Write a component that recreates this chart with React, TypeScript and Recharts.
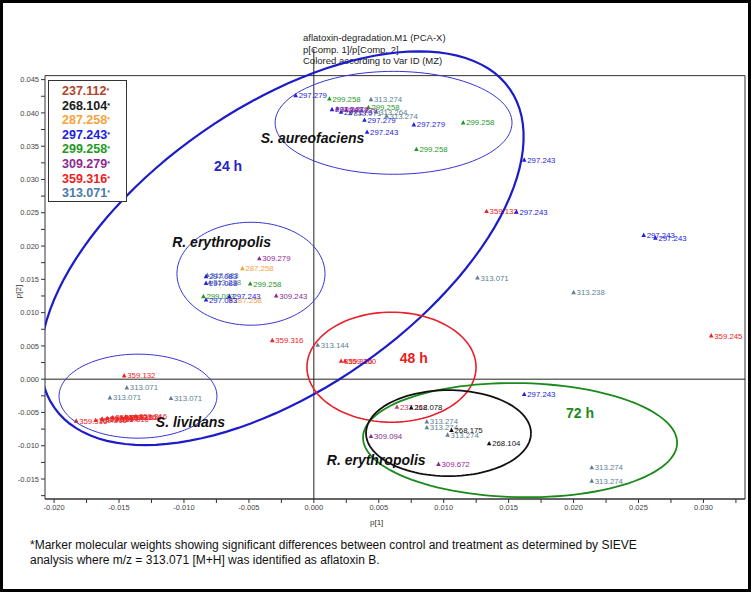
import { ScatterChart, Scatter, XAxis, YAxis, ReferenceLine, ReferenceArea } from 'recharts';

const FONT = '"Liberation Sans", Arial, sans-serif';

// axis ranges (frame is x: -0.0207..0.0332, y: -0.018..0.0456; y domain runs higher so the 24 h ellipse fits)
const X_DOMAIN = [-0.0207, 0.0332];
const Y_DOMAIN = [-0.018, 0.0496];
const FRAME_TOP = 0.0456;
const X_TICKS = [-0.02, -0.0175, -0.015, -0.0125, -0.01, -0.0075, -0.005, -0.0025, 0, 0.0025, 0.005, 0.0075, 0.01, 0.0125, 0.015, 0.0175, 0.02, 0.0225, 0.025, 0.0275, 0.03, 0.0325];
const Y_TICKS = [-0.0175, -0.015, -0.0125, -0.01, -0.0075, -0.005, -0.0025, 0, 0.0025, 0.005, 0.0075, 0.01, 0.0125, 0.015, 0.0175, 0.02, 0.0225, 0.025, 0.0275, 0.03, 0.0325, 0.035, 0.0375, 0.04, 0.0425, 0.045];

// loadings, grouped by Var ID colour
const S237 = [{ x: 0.0064, y: -0.0042, label: '237.112' }];
const S268 = [
    { x: 0.0075, y: -0.0043, label: '268.078' },
    { x: 0.0106, y: -0.0077, label: '268.175' },
    { x: 0.0135, y: -0.0097, label: '268.104' },
];
const S287 = [
    { x: -0.0055, y: 0.0166, label: '287.258' },
    { x: -0.0064, y: 0.0119, label: '287.258' },
];
const S297 = [
    { x: -0.0014, y: 0.0426, label: '297.279' },
    { x: 0.0014, y: 0.0405, label: '297.243' },
    { x: 0.0021, y: 0.0401, label: '297.279' },
    { x: 0.0039, y: 0.0389, label: '297.279' },
    { x: 0.0077, y: 0.0382, label: '297.279' },
    { x: 0.0041, y: 0.0371, label: '297.243' },
    { x: 0.0162, y: 0.0329, label: '297.243' },
    { x: 0.0156, y: 0.0251, label: '297.243' },
    { x: 0.0254, y: 0.0216, label: '297.243' },
    { x: 0.0263, y: 0.0212, label: '297.243' },
    { x: -0.0083, y: 0.0154, label: '297.083' },
    { x: -0.0083, y: 0.0144, label: '297.088' },
    { x: -0.0083, y: 0.0119, label: '297.083' },
    { x: -0.0065, y: 0.0124, label: '297.243' },
    { x: 0.0162, y: -0.0023, label: '297.243' },
];
const S299 = [
    { x: 0.0012, y: 0.0421, label: '299.258' },
    { x: 0.0042, y: 0.0408, label: '299.258' },
    { x: 0.0115, y: 0.0385, label: '299.258' },
    { x: 0.0079, y: 0.0345, label: '299.258' },
    { x: -0.0049, y: 0.0143, label: '299.258' },
    { x: -0.0085, y: 0.0124, label: '299.083' },
];
const S309 = [
    { x: 0.0018, y: 0.0406, label: '309.279' },
    { x: 0.0025, y: 0.0404, label: '309.279' },
    { x: -0.0042, y: 0.0181, label: '309.279' },
    { x: -0.0029, y: 0.0125, label: '309.243' },
    { x: 0.0044, y: -0.0086, label: '309.094' },
    { x: 0.0096, y: -0.0128, label: '309.672' },
];
const S313 = [
    { x: 0.0044, y: 0.042, label: '313.274' },
    { x: 0.0028, y: 0.0399, label: '313.071' },
    { x: 0.0048, y: 0.0401, label: '313.264' },
    { x: 0.0056, y: 0.0395, label: '313.274' },
    { x: 0.0126, y: 0.0152, label: '313.071' },
    { x: 0.02, y: 0.013, label: '313.238' },
    { x: -0.0082, y: 0.0156, label: '313.083' },
    { x: -0.008, y: 0.0145, label: '313.238' },
    { x: 0.0003, y: 0.0051, label: '313.144' },
    { x: -0.0144, y: -0.0013, label: '313.071' },
    { x: -0.0157, y: -0.0028, label: '313.071' },
    { x: -0.011, y: -0.0029, label: '313.071' },
    { x: -0.0163, y: -0.0061, label: '313.071' },
    { x: 0.0087, y: -0.0064, label: '313.274' },
    { x: 0.0087, y: -0.0073, label: '313.274' },
    { x: 0.0103, y: -0.0084, label: '313.274' },
    { x: 0.0214, y: -0.0133, label: '313.274' },
    { x: 0.0214, y: -0.0153, label: '313.274' },
];
const S359 = [
    { x: -0.0146, y: 0.0005, label: '359.132' },
    { x: 0.0133, y: 0.0252, label: '359.132' },
    { x: 0.0306, y: 0.0065, label: '359.245' },
    { x: -0.0032, y: 0.0058, label: '359.316' },
    { x: 0.0021, y: 0.0027, label: '359.316' },
    { x: 0.0024, y: 0.0027, label: '359.300' },
    { x: -0.0183, y: -0.0063, label: '359.316' },
    { x: -0.0168, y: -0.0062, label: '359.316' },
    { x: -0.0163, y: -0.006, label: '359.316' },
    { x: -0.0159, y: -0.0059, label: '359.316' },
    { x: -0.0155, y: -0.0058, label: '359.316' },
    { x: -0.0151, y: -0.006, label: '359.316' },
    { x: -0.0148, y: -0.0058, label: '359.316' },
    { x: -0.0145, y: -0.0057, label: '359.316' },
    { x: -0.0141, y: -0.0058, label: '359.316' },
    { x: -0.0137, y: -0.0056, label: '359.316' },
];

const SERIES = [
    { name: '313', color: '#607f96', data: S313 },
    { name: '359', color: '#ee2222', data: S359 },
    { name: '299', color: '#1f9a1f', data: S299 },
    { name: '287', color: '#f5a23c', data: S287 },
    { name: '297', color: '#2222dd', data: S297 },
    { name: '309', color: '#8e2a8e', data: S309 },
    { name: '237', color: '#c8406a', data: S237 },
    { name: '268', color: '#111111', data: S268 },
];

const LEGEND_ITEMS = [
    { text: '237.112', color: '#b0452a' },
    { text: '268.104', color: '#1a1a1a' },
    { text: '287.258', color: '#f5a23c' },
    { text: '297.243', color: '#2020e0' },
    { text: '299.258', color: '#1f9a1f' },
    { text: '309.279', color: '#8e2a8e' },
    { text: '359.316', color: '#ee2222' },
    { text: '313.071', color: '#4a78a8' },
];

// group ellipses: centre plus two half-axis vectors, in data units
const ELLIPSES = [
    { cx: -0.00245, cy: 0.01967, ux: 0.01753, uy: 0.02395, vx: 0.00623, vy: -0.01734, stroke: '#1c1cc8', width: 2.2 },
    { cx: 0.00614, cy: 0.03851, ux: 0.00912, uy: 0, vx: 0, vy: 0.00773, stroke: '#3434d4', width: 1 },
    { cx: -0.00484, cy: 0.01584, ux: 0.0057, uy: 0, vx: 0, vy: 0.00773, stroke: '#3434d4', width: 1 },
    { cx: -0.01354, cy: -0.00255, ux: 0.00608, uy: 0, vx: 0, vy: 0.00631, stroke: '#3434d4', width: 1 },
    { cx: 0.00598, cy: 0.0018, ux: 0.00651, uy: 0, vx: 0, vy: 0.00826, stroke: '#e8202a', width: 1.6 },
    { cx: 0.01588, cy: -0.00916, ux: 0.01209, uy: -0.0006, vx: 0.0003, vy: 0.00856, stroke: '#1a8a1a', width: 1.8 },
    { cx: 0.01037, cy: -0.00811, ux: 0.00635, uy: 0, vx: 0, vy: 0.00646, stroke: '#111111', width: 1.8 },
];

const NOTES = [
    { x: -0.0066, y: 0.032, text: '24 h', color: '#2424c8', italic: false },
    { x: -0.0001, y: 0.0363, text: 'S. aureofaciens', color: '#111', italic: true },
    { x: -0.0071, y: 0.0206, text: 'R. erythropolis', color: '#111', italic: true },
    { x: -0.0095, y: -0.0065, text: 'S. lividans', color: '#111', italic: true },
    { x: 0.0077, y: 0.0032, text: '48 h', color: '#e82020', italic: false },
    { x: 0.0048, y: -0.0122, text: 'R. erythropolis', color: '#111', italic: true },
    { x: 0.0205, y: -0.0051, text: '72 h', color: '#1a8a1a', italic: false },
];

function ellipsePoints(e: typeof ELLIPSES[number]) {
    const pts = [];
    for (let i = 0; i <= 120; i++) {
        const t = (i / 120) * Math.PI * 2;
        pts.push({
            x: e.cx + e.ux * Math.cos(t) + e.vx * Math.sin(t),
            y: e.cy + e.uy * Math.cos(t) + e.vy * Math.sin(t),
        });
    }
    return pts;
}

const fmtTick = (v: number) => {
    const k = Math.round(v * 1000 / 5);
    return Math.abs(v * 1000 - k * 5) < 1e-6 ? v.toFixed(3) : '';
};

function marker(color: string) {
    return (p: any) => (
        <g>
            <polygon points={`${p.cx},${p.cy - 2.8} ${p.cx - 2.3},${p.cy + 1.6} ${p.cx + 2.3},${p.cy + 1.6}`} fill={color} />
            <text x={p.cx + 3} y={p.cy + 2.6} fontSize={7.8} fill={color} fontFamily={FONT}>{p.payload.label}</text>
        </g>
    );
}

function note(p: any) {
    const d = p.payload;
    return (
        <text x={p.cx} y={p.cy} textAnchor="middle" dominantBaseline="central" fontSize={14} fontWeight="bold"
            fontStyle={d.italic ? 'italic' : 'normal'} fill={d.color} fontFamily={FONT}>{d.text}</text>
    );
}

const tickStyle = { fontSize: 7.5, fill: '#444', fontFamily: FONT };

export default function App() {
    return (
        <div style={{ position: 'absolute', left: 0, top: 0, width: 751, height: 592, background: '#fff', fontFamily: FONT }}>
            <div style={{ position: 'absolute', left: 303, top: 32, fontSize: 9.5, lineHeight: '11.7px', color: '#222' }}>
                <div>aflatoxin-degradation.M1 (PCA-X)</div>
                <div>p[Comp. 1]/p[Comp. 2]</div>
                <div>Colored according to Var ID (MZ)</div>
            </div>
            <ScatterChart width={751} height={592} margin={{ top: 49, right: 6, bottom: 68, left: 5 }}
                style={{ position: 'absolute', left: 0, top: 0 }}>
                <XAxis type="number" dataKey="x" domain={X_DOMAIN} allowDataOverflow ticks={X_TICKS}
                    tickFormatter={fmtTick} tick={tickStyle} tickSize={4} height={25}
                    axisLine={{ stroke: '#333' }} tickLine={{ stroke: '#333' }} />
                <YAxis type="number" dataKey="y" domain={Y_DOMAIN} allowDataOverflow ticks={Y_TICKS}
                    tickFormatter={fmtTick} tick={tickStyle} tickSize={4} width={40}
                    axisLine={false} tickLine={{ stroke: '#333' }} />
                <ReferenceArea x1={X_DOMAIN[0]} x2={X_DOMAIN[1]} y1={Y_DOMAIN[0]} y2={FRAME_TOP}
                    fill="none" stroke="#333" strokeWidth={1} />
                <ReferenceLine x={0} stroke="#222" strokeWidth={1} />
                <ReferenceLine y={0} stroke="#222" strokeWidth={1} />
                {SERIES.map((s) => (
                    <Scatter key={s.name} data={s.data} shape={marker(s.color)} isAnimationActive={false} />
                ))}
                {ELLIPSES.map((e, i) => (
                    <Scatter key={'e' + i} data={ellipsePoints(e)} line={{ stroke: e.stroke, strokeWidth: e.width }}
                        shape={() => <g />} isAnimationActive={false} />
                ))}
                <Scatter data={NOTES} shape={note} isAnimationActive={false} />
            </ScatterChart>
            <div style={{ position: 'absolute', left: 370, top: 518, fontSize: 8, color: '#333' }}>p[1]</div>
            <div style={{ position: 'absolute', left: 12, top: 287, fontSize: 8, color: '#333', transform: 'rotate(-90deg)' }}>p[2]</div>
            <div style={{ position: 'absolute', left: 48, top: 80, width: 79, height: 122, boxSizing: 'border-box',
                border: '1.5px solid #333', background: '#fff', paddingTop: 3, paddingLeft: 13 }}>
                {LEGEND_ITEMS.map((it) => (
                    <div key={it.text} style={{ color: it.color, fontSize: 12.5, fontWeight: 'bold', lineHeight: '14.6px' }}>
                        {it.text}<sup style={{ fontSize: 7, verticalAlign: 'top' }}>*</sup>
                    </div>
                ))}
            </div>
            <div style={{ position: 'absolute', left: 30, top: 538, fontSize: 12, lineHeight: '15px', color: '#111' }}>
                <div>*Marker molecular weights showing significant differences between control and treatment as determined by SIEVE</div>
                <div>analysis where m/z = 313.071 [M+H] was identified as aflatoxin B.</div>
            </div>
            <div style={{ position: 'absolute', left: 0, top: 0, width: 751, height: 592, boxSizing: 'border-box',
                border: '3px solid #000', pointerEvents: 'none' }} />
        </div>
    );
}
